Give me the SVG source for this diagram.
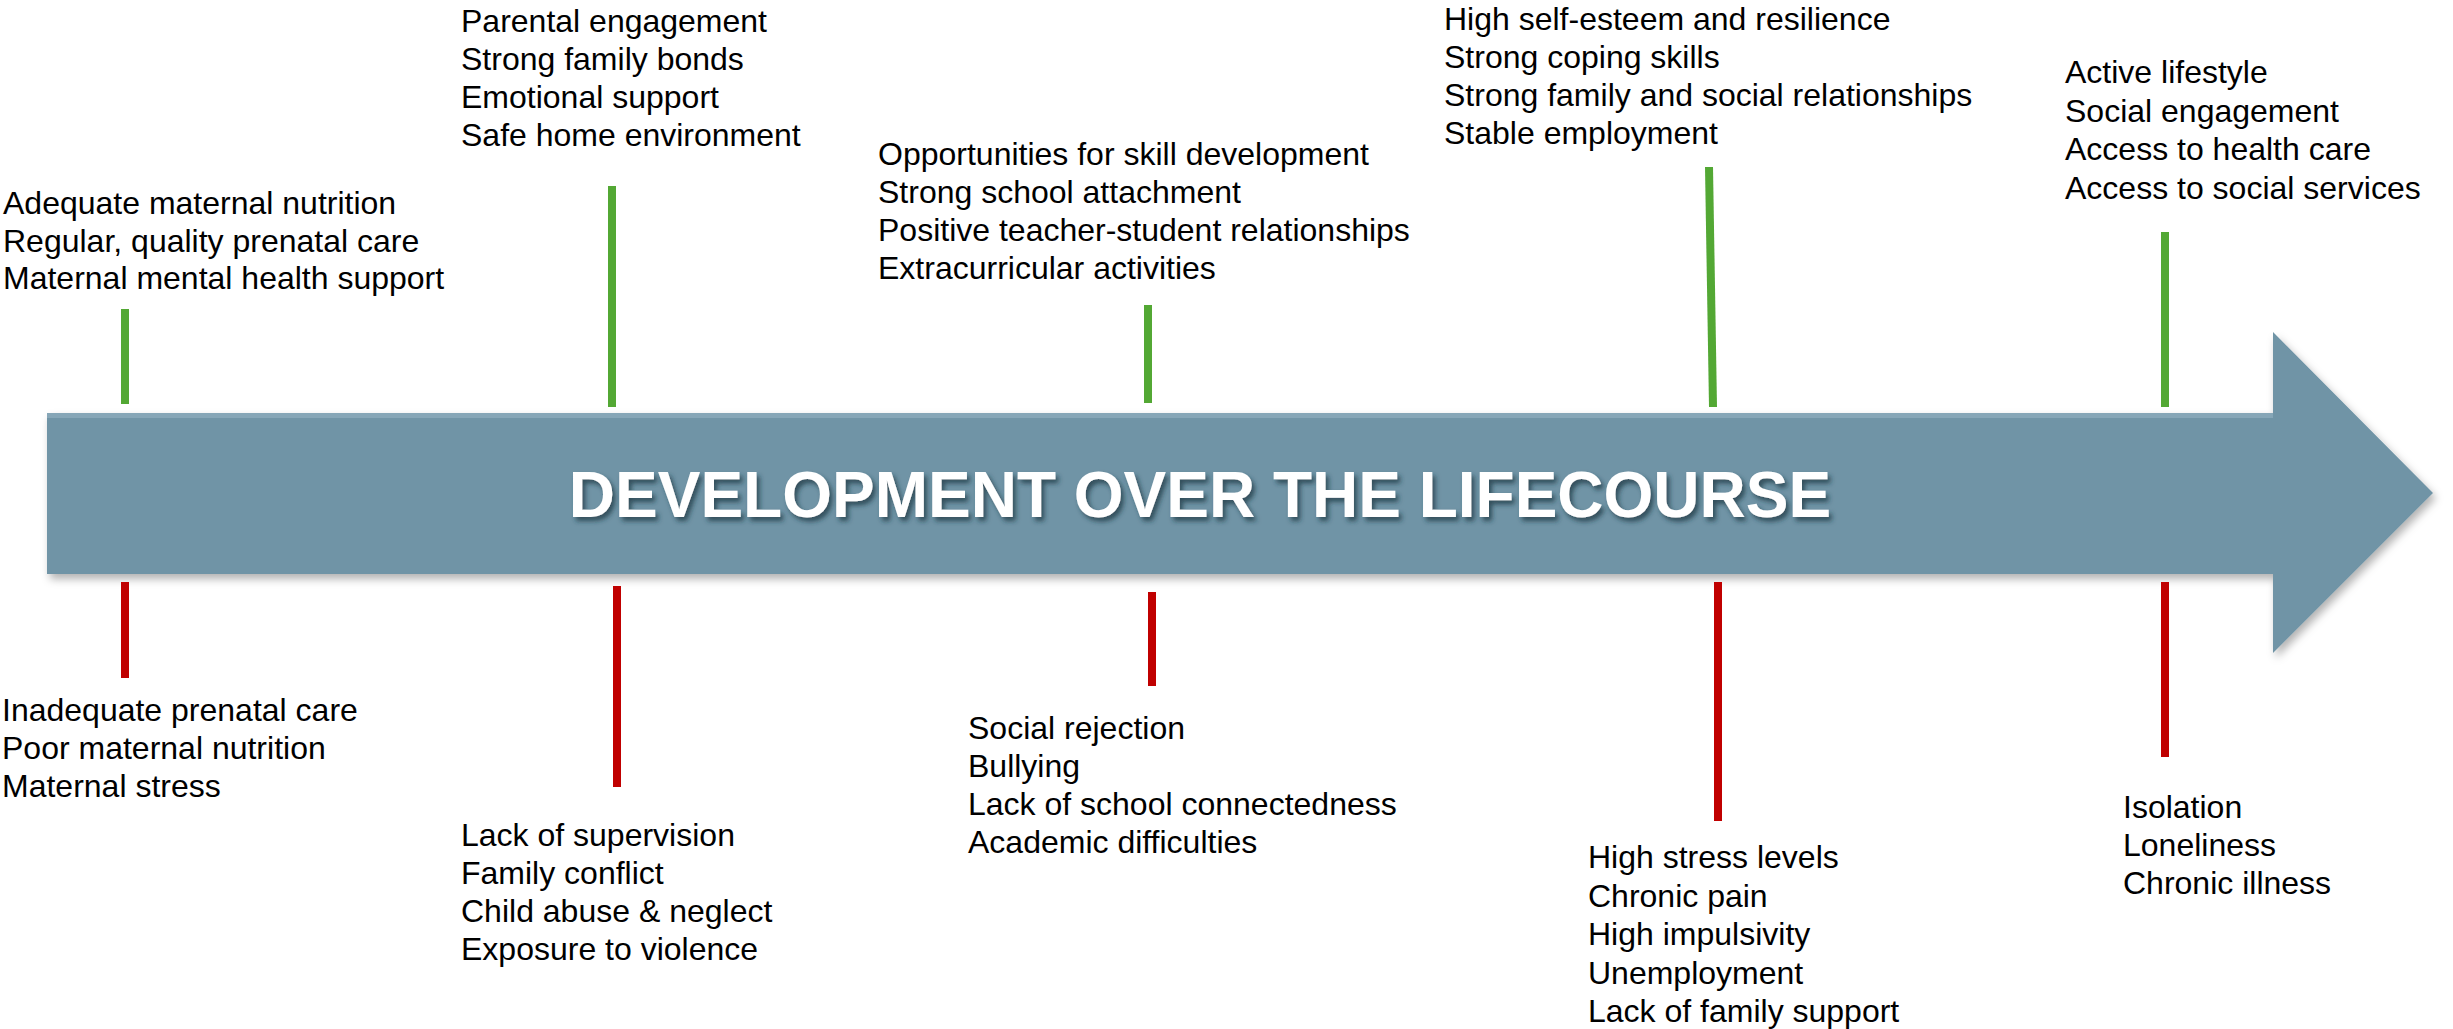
<svg xmlns="http://www.w3.org/2000/svg" width="2453" height="1029" viewBox="0 0 2453 1029">
  <style>
    .t { font-family: "Liberation Sans", Arial, sans-serif; font-size: 32px; fill: #000000; }
    .title { font-family: "Liberation Sans", Arial, sans-serif; font-size: 64px; font-weight: bold; fill: #ffffff; }
    .g { fill: #53A834; }
    .r { fill: #C00000; }
  </style>
  <defs>
    <filter id="arrowShadow" x="-5%" y="-20%" width="110%" height="150%">
      <feDropShadow dx="3" dy="5" stdDeviation="4" flood-color="#000000" flood-opacity="0.3"/>
    </filter>
    <filter id="textShadow" x="-5%" y="-30%" width="110%" height="160%">
      <feDropShadow dx="3" dy="4" stdDeviation="2.5" flood-color="#1c3442" flood-opacity="0.75"/>
    </filter>
  </defs>
  <rect x="0" y="0" width="2453" height="1029" fill="#ffffff"/>

  <g id="timeline-arrow">
    <polygon points="47,413 2273,413 2273,332 2433,493 2273,653 2273,574 47,574" fill="#7094A6" filter="url(#arrowShadow)"/>
    <rect x="47" y="413" width="2226" height="5" fill="#86A6B7"/>
    <text class="title" x="1200" y="517" text-anchor="middle" filter="url(#textShadow)">DEVELOPMENT OVER THE LIFECOURSE</text>
  </g>

  <g id="connectors">
    <rect class="g" x="121" y="309" width="8" height="95"/>
    <rect class="r" x="121" y="582" width="8" height="96"/>
    <rect class="g" x="608" y="186" width="8" height="221"/>
    <rect class="r" x="613" y="586" width="8" height="201"/>
    <rect class="g" x="1144" y="305" width="8" height="98"/>
    <rect class="r" x="1148" y="592" width="8" height="94"/>
    <polygon class="g" points="1705,167 1713,167 1717,407 1709,407"/>
    <rect class="r" x="1714" y="582" width="8" height="239"/>
    <rect class="g" x="2161" y="232" width="8" height="175"/>
    <rect class="r" x="2161" y="582" width="8" height="175"/>
  </g>

  <g id="prenatal-protective">
    <text class="t" x="3" y="214">Adequate maternal nutrition</text>
    <text class="t" x="3" y="251.5">Regular, quality prenatal care</text>
    <text class="t" x="3" y="289">Maternal mental health support</text>
  </g>
  <g id="prenatal-risk">
    <text class="t" x="2" y="721">Inadequate prenatal care</text>
    <text class="t" x="2" y="759">Poor maternal nutrition</text>
    <text class="t" x="2" y="797">Maternal stress</text>
  </g>

  <g id="childhood-protective">
    <text class="t" x="461" y="32">Parental engagement</text>
    <text class="t" x="461" y="70">Strong family bonds</text>
    <text class="t" x="461" y="108">Emotional support</text>
    <text class="t" x="461" y="146">Safe home environment</text>
  </g>
  <g id="childhood-risk">
    <text class="t" x="461" y="845.5">Lack of supervision</text>
    <text class="t" x="461" y="883.5">Family conflict</text>
    <text class="t" x="461" y="921.5">Child abuse &amp; neglect</text>
    <text class="t" x="461" y="959.5">Exposure to violence</text>
  </g>

  <g id="adolescence-protective">
    <text class="t" x="878" y="164.5">Opportunities for skill development</text>
    <text class="t" x="878" y="202.5">Strong school attachment</text>
    <text class="t" x="878" y="240.5">Positive teacher-student relationships</text>
    <text class="t" x="878" y="278.5">Extracurricular activities</text>
  </g>
  <g id="adolescence-risk">
    <text class="t" x="968" y="739">Social rejection</text>
    <text class="t" x="968" y="777">Bullying</text>
    <text class="t" x="968" y="815">Lack of school connectedness</text>
    <text class="t" x="968" y="853">Academic difficulties</text>
  </g>

  <g id="adulthood-protective">
    <text class="t" x="1444" y="29.5">High self-esteem and resilience</text>
    <text class="t" x="1444" y="67.5">Strong coping skills</text>
    <text class="t" x="1444" y="105.5">Strong family and social relationships</text>
    <text class="t" x="1444" y="143.5">Stable employment</text>
  </g>
  <g id="adulthood-risk">
    <text class="t" x="1588" y="868">High stress levels</text>
    <text class="t" x="1588" y="906.5">Chronic pain</text>
    <text class="t" x="1588" y="945">High impulsivity</text>
    <text class="t" x="1588" y="983.5">Unemployment</text>
    <text class="t" x="1588" y="1022">Lack of family support</text>
  </g>

  <g id="olderage-protective">
    <text class="t" x="2065" y="83">Active lifestyle</text>
    <text class="t" x="2065" y="121.5">Social engagement</text>
    <text class="t" x="2065" y="160">Access to health care</text>
    <text class="t" x="2065" y="198.5">Access to social services</text>
  </g>
  <g id="olderage-risk">
    <text class="t" x="2123" y="818">Isolation</text>
    <text class="t" x="2123" y="856">Loneliness</text>
    <text class="t" x="2123" y="894">Chronic illness</text>
  </g>
</svg>
